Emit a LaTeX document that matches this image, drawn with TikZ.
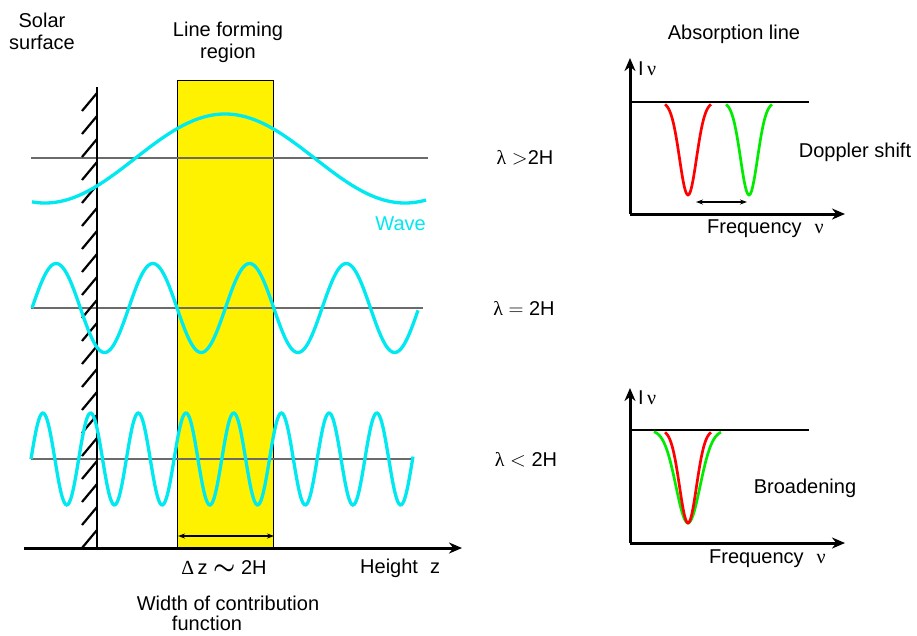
\documentclass[tikz,border=0pt]{standalone}
\usepackage{amsmath}
\usepackage{fontspec}
\setmainfont{Liberation Sans}
\newfontfamily\grk{Liberation Serif}
\usetikzlibrary{arrows.meta}
\definecolor{wavecyan}{RGB}{0,232,240}
\definecolor{linegreen}{RGB}{0,235,0}
\tikzset{
  wave/.style={wavecyan, line width=3.3pt, smooth, samples=300},
  guide/.style={black!58, line width=1.3pt},
  axis/.style={-{Stealth[length=13pt,width=11pt]}, line width=3pt},
  span/.style={{Stealth[length=7pt,width=5pt]}-{Stealth[length=7pt,width=5pt]}, line width=1.3pt},
  dip/.style={line width=2.7pt, smooth, samples=60},
  lab/.style={font=\fontsize{20}{22}\selectfont, inner sep=0pt},
}
\begin{document}
\begin{tikzpicture}[x=1pt, y=-1pt]
    \useasboundingbox (0,0) rectangle (917,635);

    % Line forming region
    \node[draw, fill=yellow, line width=1pt, inner sep=0pt, minimum width=96pt,
          minimum height=468pt, anchor=north west] (region) at (177,80) {};
    \draw[span] ([xshift=1pt,yshift=13pt]region.south west) -- ([yshift=13pt]region.south east);

    % Reference levels
    \draw[guide] (31,158) -- (428,158);
    \draw[guide] (31,308) -- (423,308);
    \draw[guide] (31,459) -- (414,459);

    % Solar surface
    \draw[line width=2.6pt] (97,87) -- (97,548);
    \foreach \k in {0,...,19}
        \draw[line width=2.2pt] (82,548-23*\k) -- (97,530-23*\k);

    % Height axis
    \coordinate (zO) at (24,548);
    \coordinate (zE) at (462,548);
    \draw[axis] (zO) -- (zE);

    % Waves
    \draw[wave, domain=32:426] plot (\x, {158.5-44.5*cos(\x-225)});
    \draw[wave, domain=32:418] plot (\x, {308-44.5*sin((\x-32)/96.7*360)});
    \draw[wave, domain=31:413] plot (\x, {459-46*sin((\x-31)/47.7*360)});

    % Labels, left part
    \node[lab, align=center] (solar) at (42,31) {Solar\\surface};
    \node[lab, align=center] (lfr) at (228,42) {Line forming\\region};
    \node[lab, text=wavecyan, anchor=east] (wave) at (426,224) {Wave};
    \node[lab] (lgt) at (525,158) {{\grk λ} $>$2H};
    \node[lab] (leq) at (524,308) {{\grk λ} $=$ 2H};
    \node[lab] (llt) at (526,460) {{\grk λ} $<$ 2H};
    \node[lab] (dz) at (224,568) {{\grk Δ}\,z {\fontsize{26}{26}\selectfont$\boldsymbol{\sim}$} 2H};
    \node[lab, anchor=west] (height) at (360,568) {Height\hspace{12pt}z};
    \node[lab] (width) at (228,603) {Width of contribution};
    \node[lab] (func) at (207,623) {function};

    % Absorption line: Doppler shift
    \node[lab] (absorp) at (734,34) {Absorption line};
    \coordinate (oA) at (630,214);
    \coordinate (yA) at (630,58);
    \coordinate (xA) at (845,214);
    \draw[axis] (oA) -- (yA);
    \draw[axis] (oA) -- (xA);
    \draw[line width=1.4pt] (630,102) -- (809,102);
    \draw[dip, red, domain=665:711] plot (\x, {102+93*exp(-((\x-688)/12)^2)});
    \draw[dip, linegreen, domain=726:772] plot (\x, {102+93*exp(-((\x-749)/12)^2)});
    \draw[span] (696,202) -- (747,202);
    \node[lab, anchor=west] (ivA) at (638,69) {I\,{\grk ν}};
    \node[lab, anchor=west] (freqA) at (707,229) {Frequency\hspace{13pt}{\grk ν}};
    \node[lab] (doppler) at (855,152) {Doppler shift};

    % Absorption line: broadening
    \coordinate (oB) at (630,543);
    \coordinate (yB) at (630,388);
    \coordinate (xB) at (845,543);
    \draw[axis] (oB) -- (yB);
    \draw[axis] (oB) -- (xB);
    \draw[line width=1.4pt] (630,430) -- (809,430);
    \draw[dip, linegreen, domain=654:721] plot (\x, {430+93*exp(-((\x-688)/17)^2)});
    \draw[dip, red, domain=665:711] plot (\x, {430+93*exp(-((\x-688)/12)^2)});
    \node[lab, anchor=west] (ivB) at (638,398) {I\,{\grk ν}};
    \node[lab, anchor=west] (freqB) at (709,559) {Frequency\hspace{13pt}{\grk ν}};
    \node[lab] (broad) at (805,488) {Broadening};
\end{tikzpicture}
\end{document}
